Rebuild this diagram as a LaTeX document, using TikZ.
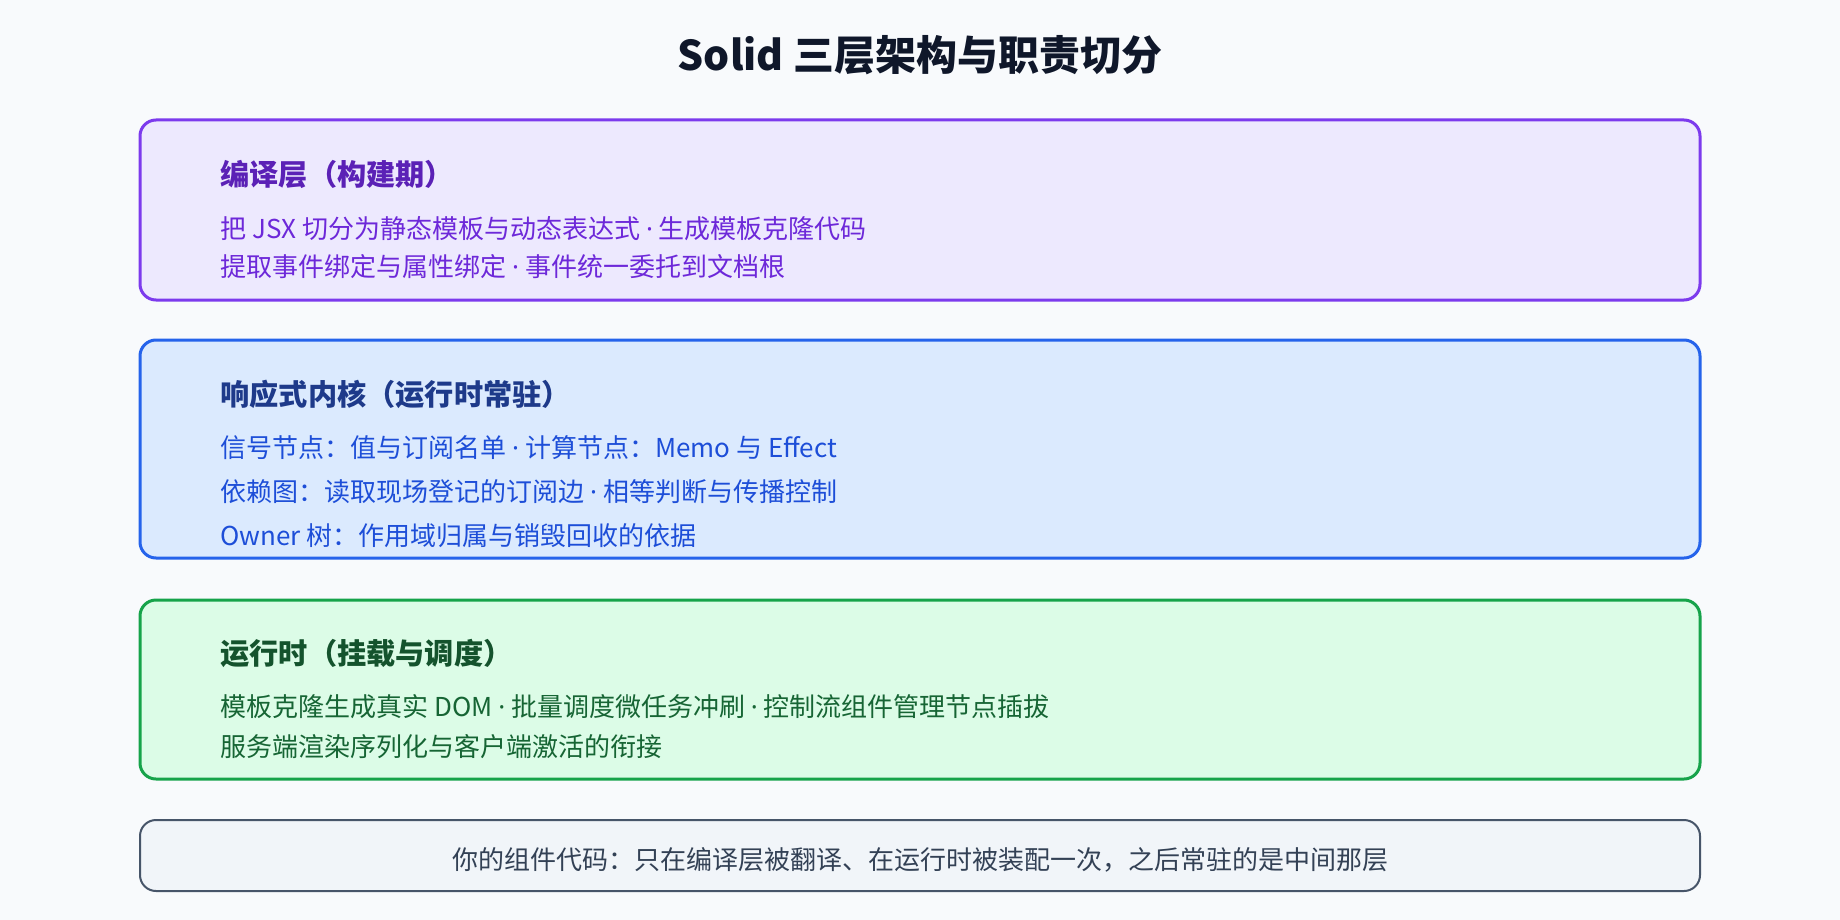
\documentclass[tikz,border=0pt]{standalone}
\usepackage{fontspec}
\newfontfamily\cjk{Noto Sans CJK SC}
\newfontfamily\latinfont{Noto Sans}
\newcommand\middot{{\latinfont ·}}
\definecolor{pagebg}{HTML}{F8FAFC}
\definecolor{titlecol}{HTML}{0F172A}
\definecolor{compfill}{HTML}{EDE9FE}
\definecolor{compdraw}{HTML}{7C3AED}
\definecolor{comphead}{HTML}{5B21B6}
\definecolor{comptext}{HTML}{6D28D9}
\definecolor{corefill}{HTML}{DBEAFE}
\definecolor{coredraw}{HTML}{2563EB}
\definecolor{corehead}{HTML}{1E3A8A}
\definecolor{coretext}{HTML}{1D4ED8}
\definecolor{runfill}{HTML}{DCFCE7}
\definecolor{rundraw}{HTML}{16A34A}
\definecolor{runhead}{HTML}{14532D}
\definecolor{runtext}{HTML}{166534}
\definecolor{notefill}{HTML}{F1F5F9}
\definecolor{notedraw}{HTML}{475569}
\definecolor{notetext}{HTML}{334155}
\begin{document}
\begin{tikzpicture}[x=0.5pt,y=-0.5pt,
    layerbox/.style={line width=1.5pt, rounded corners=8pt},
    headtext/.style={anchor=base west, inner sep=0pt, font=\cjk\fontsize{14.6}{17}\selectfont\bfseries},
    bodytext/.style={anchor=base west, inner sep=0pt, font=\cjk\fontsize{13}{15}\selectfont}]
    \fill[pagebg] (0,0) rectangle (1840,920);
    \node[anchor=base, inner sep=0pt, text=titlecol, font=\cjk\fontsize{20.5}{24}\selectfont\bfseries] (title) at (920,71) {Solid 三层架构与职责切分};
    % compile layer
    \draw[layerbox, draw=compdraw, fill=compfill] (140,120) rectangle (1700,300);
    \node[headtext, text=comphead] (comph) at (220,185) {编译层（构建期）};
    \node[bodytext, text=comptext] (comp1) at (220,238) {把 JSX 切分为静态模板与动态表达式 \middot{} 生成模板克隆代码};
    \node[bodytext, text=comptext] (comp2) at (220,276.5) {提取事件绑定与属性绑定 \middot{} 事件统一委托到文档根};
    % reactive core
    \draw[layerbox, draw=coredraw, fill=corefill] (140,340) rectangle (1700,558);
    \node[headtext, text=corehead] (coreh) at (220,405) {响应式内核（运行时常驻）};
    \node[bodytext, text=coretext] (core1) at (220,457.5) {信号节点：值与订阅名单 \middot{} 计算节点：Memo 与 Effect};
    \node[bodytext, text=coretext] (core2) at (220,501) {依赖图：读取现场登记的订阅边 \middot{} 相等判断与传播控制};
    \node[bodytext, text=coretext] (core3) at (220,545) {Owner 树：作用域归属与销毁回收的依据};
    % runtime
    \draw[layerbox, draw=rundraw, fill=runfill] (140,600) rectangle (1700,779);
    \node[headtext, text=runhead] (runh) at (220,664) {运行时（挂载与调度）};
    \node[bodytext, text=runtext] (run1) at (220,716.5) {模板克隆生成真实 DOM \middot{} 批量调度微任务冲刷 \middot{} 控制流组件管理节点插拔};
    \node[bodytext, text=runtext] (run2) at (220,756.5) {服务端渲染序列化与客户端激活的衔接};
    % note
    \draw[line width=1pt, rounded corners=8pt, draw=notedraw, fill=notefill] (140,820) rectangle (1700,891);
    \node[anchor=base, inner sep=0pt, text=notetext, font=\cjk\fontsize{13}{15}\selectfont] (note) at (920,869.5) {你的组件代码：只在编译层被翻译、在运行时被装配一次，之后常驻的是中间那层};
\end{tikzpicture}
\end{document}
